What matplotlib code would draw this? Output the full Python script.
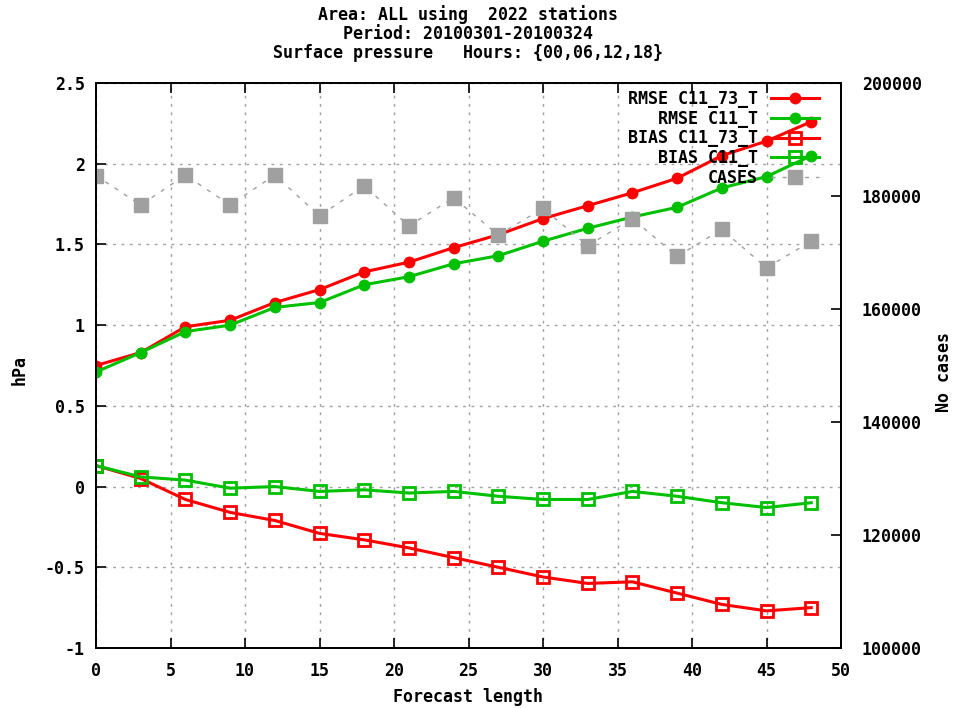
import matplotlib.pyplot as plt
from matplotlib.lines import Line2D
from matplotlib.ticker import MultipleLocator, FuncFormatter

hours = [0, 3, 6, 9, 12, 15, 18, 21, 24, 27, 30, 33, 36, 39, 42, 45, 48]
rmse_c11_73 = [0.75, 0.83, 0.99, 1.03, 1.14, 1.22, 1.33, 1.39, 1.48, 1.56, 1.66, 1.74,
               1.82, 1.91, 2.05, 2.14, 2.26]
rmse_c11 = [0.71, 0.83, 0.96, 1.00, 1.11, 1.14, 1.25, 1.30, 1.38, 1.43, 1.52, 1.60,
            1.67, 1.73, 1.85, 1.92, 2.05]
bias_c11_73 = [0.13, 0.05, -0.08, -0.16, -0.21, -0.29, -0.33, -0.38, -0.44, -0.50,
               -0.56, -0.60, -0.59, -0.66, -0.73, -0.77, -0.75]
bias_c11 = [0.13, 0.06, 0.04, -0.01, 0.00, -0.03, -0.02, -0.04, -0.03, -0.06,
            -0.08, -0.08, -0.03, -0.06, -0.10, -0.13, -0.10]
cases = [183600, 178400, 183700, 178400, 183700, 176500, 181800, 174700, 179700,
         173100, 177800, 171200, 176000, 169300, 174100, 167300, 172000]

RED = '#ff0000'
GREEN = '#00c000'
GREY = '#a0a0a0'

plt.rcParams['font.family'] = 'DejaVu Sans Mono'
plt.rcParams['font.weight'] = 'bold'
plt.rcParams['font.size'] = 12

W, H = 957, 708
fig = plt.figure(figsize=(W / 100, H / 100), dpi=100)
ax = fig.add_axes([96 / W, 1 - 648 / H, 745 / W, 565 / H])
ax2 = ax.twinx()

ax.plot(hours, rmse_c11_73, color=RED, lw=2.2, marker='o', ms=7.5)
ax.plot(hours, rmse_c11, color=GREEN, lw=2.2, marker='o', ms=7.5)
ax.plot(hours, bias_c11_73, color=RED, lw=2.2, marker='s', ms=8.5, mfc='none', mew=2)
ax.plot(hours, bias_c11, color=GREEN, lw=2.2, marker='s', ms=8.5, mfc='none', mew=2)
ax2.plot(hours, cases, color=GREY, lw=1, ls=(0, (3, 5)), marker='s', ms=10)

ax.set_xlim(0, 50)
ax.set_ylim(-1, 2.5)
ax2.set_ylim(100000, 200000)
ax.xaxis.set_major_locator(MultipleLocator(5))
ax.yaxis.set_major_locator(MultipleLocator(0.5))
ax2.yaxis.set_major_locator(MultipleLocator(20000))
ax.yaxis.set_major_formatter(FuncFormatter(lambda v, p: f'{v:g}'))

ax.grid(True, color=GREY, ls=(0, (2, 4)), lw=1)
ax.tick_params(axis='x', direction='in', top=True, bottom=True, length=7, width=1.2, pad=10)
ax.tick_params(axis='y', direction='in', left=True, right=False, length=7, width=1.2, pad=8)
ax2.tick_params(axis='y', direction='in', right=True, length=7, width=1.2, pad=15)
for a in (ax, ax2):
    for s in a.spines.values():
        s.set_linewidth(1.3)

fig.text(468 / W, 1 - 15 / H, 'Area: ALL using  2022 stations', ha='center', va='center')
fig.text(468 / W, 1 - 34 / H, 'Period: 20100301-20100324', ha='center', va='center')
fig.text(468 / W, 1 - 53 / H, 'Surface pressure   Hours: {00,06,12,18}', ha='center', va='center')
fig.text(20 / W, 1 - 370 / H, 'hPa', rotation=90, ha='center', va='center')
fig.text(944 / W, 1 - 372 / H, 'No cases', rotation=90, ha='center', va='center')
fig.text(468 / W, 1 - 697 / H, 'Forecast length', ha='center', va='center')

handles = [
    Line2D([], [], color=RED, lw=2.2, marker='o', ms=7.5),
    Line2D([], [], color=GREEN, lw=2.2, marker='o', ms=7.5),
    Line2D([], [], color=RED, lw=2.2, marker='s', ms=8.5, mfc='none', mew=2),
    Line2D([], [], color=GREEN, lw=2.2, marker='s', ms=8.5, mfc='none', mew=2),
    Line2D([], [], color=GREY, lw=1, ls=(0, (3, 5)), marker='s', ms=10),
]
labels = ['RMSE C11_73_T', 'RMSE C11_T', 'BIAS C11_73_T', 'BIAS C11_T', 'CASES']
ax2.legend(handles, labels, loc='upper right', bbox_to_anchor=(1 - 22 / 745, 1 - 7 / 565),
           frameon=False, markerfirst=False, handlelength=2.9, handletextpad=0.75,
           labelspacing=0.1, borderpad=0, borderaxespad=0)

fig.savefig('out.png', dpi=100)
